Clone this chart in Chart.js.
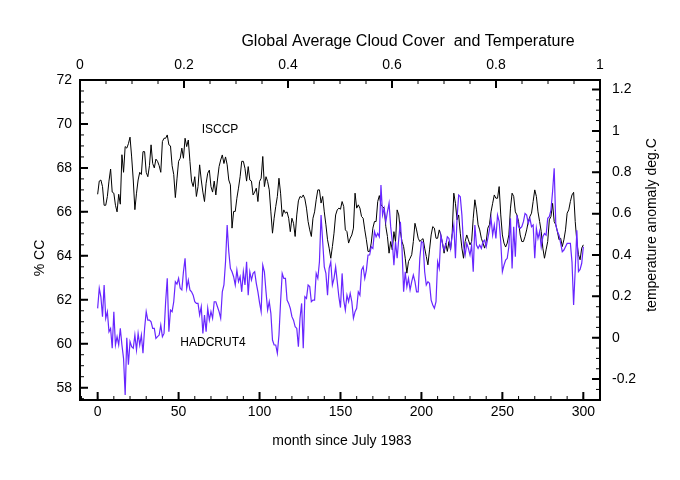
<!DOCTYPE html>
<html>
<head>
<meta charset="utf-8">
<script src="https://cdn.jsdelivr.net/npm/chart.js@4.4.1/dist/chart.umd.min.js"></script>
<style>
  html, body { margin: 0; padding: 0; background: #fff; }
</style>
</head>
<body>
<canvas id="cloudChart" width="680" height="480"></canvas>
<script>
// ISCCP global cloud cover (% CC), one value per month since July 1983
const isccp = [
  66.8, 67.4, 67.45, 67.15, 66.3, 66.3, 66.7, 67.4, 67.95, 66.9,
  66.85, 66.3, 66.0, 66.8, 66.35, 68.6, 67.8, 68.97, 68.9, 69.1,
  69.4, 68.5, 67.45, 66.1, 66.85, 67.45, 67.8, 67.7, 68.74, 68.74,
  67.8, 67.6, 68.1, 69.05, 68.2, 68.0, 68.4, 68.3, 68.1, 67.8,
  69.2, 69.35, 69.35, 69.5, 69.05, 69.0, 68.1, 67.7, 66.65, 67.5,
  68.3, 68.44, 68.9, 68.44, 69.35, 68.97, 69.27, 68.3, 67.4, 67.15,
  67.6, 66.7, 67.15, 68.14, 67.45, 66.9, 66.47, 67.3, 67.76, 67.9,
  67.15, 66.9, 67.4, 66.77, 67.45, 68.06, 68.36, 68.59, 68.2, 68.5,
  68.14, 67.45, 67.23, 65.26, 66.02, 66.02, 66.62, 67.08, 67.6, 68.3,
  68.3, 67.98, 67.4, 68.06, 67.45, 67.4, 66.77, 66.9, 67.08, 66.47,
  67.38, 67.53, 68.52, 67.15, 67.6, 67.38, 67.0, 66.0, 65.03, 65.71,
  66.24, 66.7, 67.53, 66.85, 65.79, 66.09, 65.94, 66.0, 65.71, 65.1,
  65.71, 65.48, 64.88, 65.86, 66.5, 66.7, 66.65, 66.77, 66.59, 66.17,
  65.56, 65.18, 64.88, 65.71, 66.0, 66.55, 67.0, 67.0, 66.4, 66.7,
  66.0, 65.41, 64.73, 64.35, 63.89, 64.42, 65.03, 65.86, 66.09, 66.17,
  66.12, 66.47, 66.24, 65.18, 65.1, 64.58, 64.8, 64.95, 65.26, 66.85,
  66.17, 66.32, 66.17, 65.79, 65.71, 65.18, 64.73, 64.2, 64.2, 64.58,
  65.26, 65.56, 65.56, 66.47, 66.74, 66.32, 66.24, 66.17, 65.33, 64.88,
  64.12, 64.65, 64.27, 65.1, 64.65, 66.09, 65.86, 65.1, 64.65, 64.42,
  63.89, 63.21, 63.74, 63.89, 64.05, 64.65, 65.48, 65.18, 64.8, 64.65,
  64.73, 64.78, 64.35, 63.97, 63.59, 64.27, 64.95, 65.33, 65.26, 64.8,
  64.8, 65.18, 64.95, 64.58, 64.12, 64.58, 64.2, 64.65, 64.27, 65.03,
  66.85, 66.39, 65.64, 65.86, 65.03, 64.35, 63.89, 64.65, 64.95, 64.73,
  64.5, 64.65, 65.71, 66.55, 66.09, 65.41, 65.18, 64.8, 64.58, 64.35,
  64.65, 65.26, 65.41, 66.0, 66.39, 66.77, 66.62, 66.62, 67.15, 65.86,
  64.95, 64.58, 64.4, 64.58, 64.95, 66.17, 66.85, 66.7, 66.0, 65.86,
  65.56, 64.95, 64.65, 64.65, 64.88, 65.18, 65.56, 65.79, 65.94, 66.47,
  67.0, 66.7, 66.0, 65.56, 65.1, 64.35, 63.89, 64.27, 64.65, 65.64,
  65.79, 66.39, 65.56, 65.41, 65.1, 64.73, 64.8, 64.42, 64.73, 65.18,
  65.94, 66.09, 66.47, 66.77, 66.89, 65.56, 64.65, 64.05, 63.82, 64.35, 64.5
];

// HADCRUT4 temperature anomaly (deg.C), same months
const hadcrut4 = [
  0.142, 0.239, 0.198, 0.102, 0.255, 0.094, 0.126, 0.029, 0.045, -0.051,
  0.126, -0.035, 0.005, -0.035, 0.045, -0.035, -0.10, -0.277, 0.0, -0.13,
  -0.019, -0.043, -0.051, 0.013, -0.059, 0.021, -0.035, 0.013, -0.075, 0.045,
  0.126, 0.085, 0.085, 0.077, 0.045, 0.045, -0.003, 0.005, 0.013, 0.061,
  0.005, 0.021, 0.174, 0.287, 0.029, 0.134, 0.126, 0.174, 0.271, 0.259,
  0.287, 0.239, 0.231, 0.319, 0.384, 0.239, 0.279, 0.231, 0.222, 0.206,
  0.174, 0.166, 0.166, 0.110, 0.15, 0.021, 0.110, 0.029, 0.142, 0.085,
  0.126, 0.094, 0.174, 0.174, 0.15, 0.126, 0.094, 0.222, 0.255, 0.367,
  0.545, 0.416, 0.335, 0.319, 0.295, 0.255, 0.327, 0.271, 0.295, 0.222,
  0.319, 0.255, 0.367, 0.206, 0.319, 0.279, 0.311, 0.319, 0.263, 0.222,
  0.17, 0.126, 0.351, 0.319, 0.222, 0.134, 0.174, 0.118, -0.011, -0.035,
  -0.035, -0.075, 0.013, 0.174, 0.311, 0.287, 0.287, 0.182, 0.166, 0.142,
  0.102, 0.085, 0.053, 0.045, -0.043, 0.094, 0.166, -0.051, 0.198, 0.190,
  0.255, 0.247, 0.174, 0.182, 0.182, 0.311, 0.287, 0.367, 0.593, 0.464,
  0.343, 0.311, 0.206, 0.335, 0.367, 0.255, 0.287, 0.343, 0.271, 0.198,
  0.146, 0.311, 0.182, 0.134, 0.206, 0.174, 0.214, 0.174, 0.094, 0.126,
  0.142, 0.222, 0.206, 0.327, 0.343, 0.287, 0.327, 0.400, 0.400, 0.440,
  0.432, 0.513, 0.488, 0.504, 0.488, 0.738, 0.593, 0.625, 0.561, 0.609,
  0.650, 0.537, 0.464, 0.351, 0.464, 0.384, 0.480, 0.561, 0.432, 0.222,
  0.319, 0.247, 0.287, 0.231, 0.271, 0.303, 0.271, 0.222, 0.222, 0.384,
  0.464, 0.46, 0.319, 0.255, 0.271, 0.263, 0.182, 0.158, 0.142, 0.174,
  0.367, 0.335, 0.496, 0.456, 0.424, 0.448, 0.488, 0.48, 0.432, 0.496,
  0.545, 0.384, 0.577, 0.690, 0.682, 0.593, 0.448, 0.400, 0.456, 0.432,
  0.400, 0.448, 0.319, 0.545, 0.448, 0.432, 0.448, 0.432, 0.464, 0.472,
  0.440, 0.480, 0.521, 0.577, 0.496, 0.545, 0.480, 0.593, 0.561, 0.464,
  0.319, 0.351, 0.376, 0.384, 0.440, 0.577, 0.335, 0.537, 0.392, 0.593,
  0.537, 0.529, 0.537, 0.561, 0.601, 0.593, 0.553, 0.577, 0.537, 0.545,
  0.384, 0.529, 0.480, 0.513, 0.440, 0.488, 0.504, 0.496, 0.577, 0.585,
  0.617, 0.706, 0.819, 0.545, 0.513, 0.496, 0.456, 0.416, 0.424, 0.440,
  0.456, 0.456, 0.456, 0.367, 0.158, 0.33, 0.52, 0.32, 0.33, 0.36, 0.44
];

// tick labels
const monthTicks = [0, 50, 100, 150, 200, 250, 300];
const topTicks = [0, 0.2, 0.4, 0.6, 0.8, 1];
const ccTicks = [58, 60, 62, 64, 66, 68, 70, 72];
const tempTicks = [-0.2, 0, 0.2, 0.4, 0.6, 0.8, 1, 1.2];

const FONT = "'Liberation Sans', Arial, Helvetica, sans-serif";
const PURPLE = 'rgb(104, 38, 255)';

Chart.defaults.font.family = FONT;
Chart.defaults.color = '#000';

function setTicks(values) {
    return scale => { scale.ticks = values.map(v => ({ value: v })); };
}
function fixSize(prop, size) {
    return scale => { scale[prop] = size; };
}
const fmt = v => String(+Number(v).toFixed(2));

// frame, inward tick marks and the text labels
const framePlugin = {
    id: 'framePlugin',
    afterDraw(chart) {
        const { ctx, chartArea: a, scales } = chart;
        ctx.save();
        ctx.strokeStyle = '#000';

        function marks(scale, side, from, to, step, len, width) {
            ctx.lineWidth = width;
            ctx.beginPath();
            const n = Math.round((to - from) / step);
            for (let i = 0; i <= n; i++) {
                const v = from + i * step;
                const p = scale.getPixelForValue(v);
                if (side === 'bottom') { ctx.moveTo(p, a.bottom); ctx.lineTo(p, a.bottom - len); }
                if (side === 'top') { ctx.moveTo(p, a.top); ctx.lineTo(p, a.top + len); }
                if (side === 'left') { ctx.moveTo(a.left, p); ctx.lineTo(a.left + len, p); }
                if (side === 'right') { ctx.moveTo(a.right, p); ctx.lineTo(a.right - len, p); }
            }
            ctx.stroke();
        }

        // minor
        marks(scales.x, 'bottom', -10, 310, 10, 4, 1);
        marks(scales.x2, 'top', 0, 1, 0.05, 4, 1);
        marks(scales.y, 'left', 57.5, 72, 0.5, 4, 1);
        marks(scales.y2, 'right', -0.3, 1.2, 0.05, 4, 1);
        // major
        marks(scales.x, 'bottom', 0, 300, 50, 8, 2);
        marks(scales.x2, 'top', 0, 1, 0.2, 8, 2);
        marks(scales.y, 'left', 58, 72, 2, 8, 2);
        marks(scales.y2, 'right', -0.2, 1.2, 0.2, 8, 2);

        ctx.lineWidth = 2;
        ctx.strokeRect(a.left, a.top, a.right - a.left, a.bottom - a.top);

        ctx.fillStyle = '#000';
        ctx.textAlign = 'center';
        ctx.textBaseline = 'middle';
        ctx.font = '16px ' + FONT;
        ctx.fillText('Global Average Cloud Cover  and Temperature', 408, 42);
        ctx.font = '14px ' + FONT;
        ctx.fillText('month since July 1983', 342, 441);
        ctx.font = '12px ' + FONT;
        ctx.fillText('ISCCP', 220, 130);
        ctx.fillText('HADCRUT4', 213, 343);

        ctx.font = '14px ' + FONT;
        ctx.save();
        ctx.translate(40, 258);
        ctx.rotate(-Math.PI / 2);
        ctx.fillText('% CC', 0, 0);
        ctx.restore();
        ctx.save();
        ctx.translate(652, 225);
        ctx.rotate(-Math.PI / 2);
        ctx.fillText('temperature anomaly deg.C', 0, 0);
        ctx.restore();

        ctx.restore();
    }
};

const tickFont = { size: 14, family: FONT };
const noGrid = { display: false, drawTicks: false };

new Chart(document.getElementById('cloudChart'), {
    type: 'line',
    data: {
        datasets: [{
            label: 'ISCCP',
            data: isccp.map((v, i) => ({ x: i, y: v })),
            borderColor: '#000',
            borderWidth: 1,
            pointRadius: 0,
            tension: 0,
            xAxisID: 'x',
            yAxisID: 'y',
            order: 1
        }, {
            label: 'HADCRUT4',
            data: hadcrut4.map((v, i) => ({ x: i, y: v })),
            borderColor: PURPLE,
            borderWidth: 1.2,
            pointRadius: 0,
            tension: 0,
            xAxisID: 'x',
            yAxisID: 'y2',
            order: 0
        }]
    },
    options: {
        responsive: false,
        animation: false,
        layout: { padding: 0 },
        plugins: {
            legend: { display: false },
            tooltip: { enabled: false },
            title: { display: false }
        },
        scales: {
            x: {
                type: 'linear',
                position: 'bottom',
                min: -10.9,
                max: 310.3,
                afterBuildTicks: setTicks(monthTicks),
                afterFit: fixSize('height', 80),
                grid: noGrid,
                border: { display: false },
                ticks: { font: tickFont, padding: 4, autoSkip: false, maxRotation: 0, callback: fmt }
            },
            x2: {
                type: 'linear',
                position: 'top',
                min: 0,
                max: 1,
                afterBuildTicks: setTicks(topTicks),
                afterFit: fixSize('height', 80),
                grid: noGrid,
                border: { display: false },
                ticks: { font: tickFont, padding: 6, autoSkip: false, maxRotation: 0, callback: fmt }
            },
            y: {
                type: 'linear',
                position: 'left',
                min: 57.44,
                max: 72,
                afterBuildTicks: setTicks(ccTicks),
                afterFit: fixSize('width', 80),
                grid: noGrid,
                border: { display: false },
                ticks: { font: tickFont, padding: 8, autoSkip: false, callback: fmt }
            },
            y2: {
                type: 'linear',
                position: 'right',
                min: -0.301,
                max: 1.246,
                afterBuildTicks: setTicks(tempTicks),
                afterFit: fixSize('width', 80),
                grid: noGrid,
                border: { display: false },
                ticks: { font: tickFont, padding: 12, autoSkip: false, callback: fmt }
            }
        }
    },
    plugins: [framePlugin]
});
</script>
</body>
</html>
